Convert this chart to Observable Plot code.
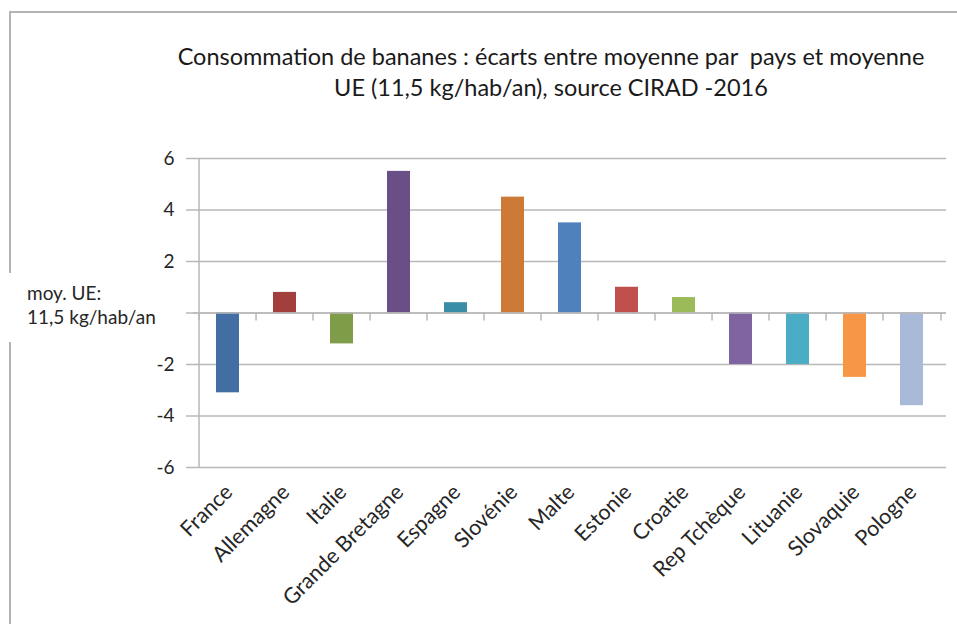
<!DOCTYPE html>
<html lang="fr">
<head>
<meta charset="utf-8">
<script src="https://cdn.jsdelivr.net/npm/d3@7"></script>
<script src="https://cdn.jsdelivr.net/npm/@observablehq/plot@0.6"></script>
<style>
  html, body { margin: 0; padding: 0; background: #fff; overflow: hidden; }
  #wrap { position: relative; width: 957px; height: 624px; overflow: hidden; font-family: Lato, "Open Sans", sans-serif; color: #262626; }
  #frame { position: absolute; left: 9px; top: 11px; width: 1000px; height: 700px; border: 2px solid #b4b4b4; box-sizing: border-box; }
  #title { position: absolute; left: 60px; width: 982px; top: 41px; text-align: center; font-size: 23.5px; line-height: 31px; color: #1a1a1a; }
  #chart { position: absolute; left: 0; top: 0; }
  #note { position: absolute; left: 0; top: 273px; width: 168px; height: 69px; background: #fff; }
  #note span { position: absolute; left: 27px; font-size: 19px; line-height: 24px; color: #262626; white-space: nowrap; }
</style>
</head>
<body>
<div id="wrap">
  <div id="frame"></div>
  <div id="chart"></div>
  <div id="title"></div>
  <div id="note"></div>
</div>
<script>
// Écart de consommation de bananes par pays vs moyenne UE (kg/hab/an)
const countries = ["France", "Allemagne", "Italie", "Grande Bretagne", "Espagne", "Slovénie", "Malte", "Estonie", "Croatie", "Rep Tchèque", "Lituanie", "Slovaquie", "Pologne"];
const gaps = [-3.1, 0.8, -1.2, 5.5, 0.4, 4.5, 3.5, 1.0, 0.6, -2.0, -2.0, -2.5, -3.6];
const barColors = ["#426ea4", "#a23f3d", "#7f9c48", "#6a4e86", "#3a8da6", "#cd7a36", "#4f81bd", "#c0504d", "#9bbb59", "#8064a2", "#4bacc6", "#f79646", "#a9bad8"];
const yTicks = [-6, -4, -2, 0, 2, 4, 6];
const titleLines = ["Consommation de bananes : écarts entre moyenne par  pays et moyenne", "UE (11,5 kg/hab/an), source CIRAD -2016"];
const noteLines = ["moy. UE:", "11,5 kg/hab/an"];

const rows = countries.map((country, i) => ({country, gap: gaps[i], color: barColors[i]}));

const W = 957, H = 624;
const mLeft = 193, mRight = 11, mTop = 158, mBottom = 157;
const step = (W - mLeft - mRight) / countries.length;
const pxPerUnit = (H - mTop - mBottom) / 12;
const tickLen = 8 / pxPerUnit; // separator tick length, in value units
const grey = "#b8b8b8";

const chart = Plot.plot({
  width: W,
  height: H,
  marginLeft: mLeft,
  marginRight: mRight,
  marginTop: mTop,
  marginBottom: mBottom,
  style: {fontFamily: "Lato, 'Open Sans', sans-serif", background: "transparent", color: "#262626"},
  x: {domain: countries, paddingInner: 0.6, paddingOuter: 0.3, axis: null},
  y: {domain: [-6, 6], axis: null},
  color: {type: "identity"},
  marks: [
    Plot.gridY(yTicks, {stroke: grey, strokeOpacity: 1, strokeWidth: 1.5}),
    // the zero tick carries no number: the UE note sits there instead
    Plot.axisY(yTicks, {label: null, tickSize: 7, tickPadding: 12, stroke: grey, strokeOpacity: 1, strokeWidth: 1.5, fontSize: 19, tickFormat: d => d === 0 ? "" : String(d), fill: "#262626"}),
    // vertical value axis at the left edge of the first band
    Plot.ruleX([countries[0]], {x: d => d, dx: -step / 2, y1: -6, y2: 6, stroke: grey, strokeWidth: 1.5}),
    Plot.barY(rows, {x: "country", y: "gap", fill: "color"}),
    Plot.ruleY([0], {stroke: grey, strokeWidth: 1.5}),
    // category separators hanging below the zero line
    Plot.ruleX(countries, {x: d => d, dx: -step / 2, y1: 0, y2: -tickLen, stroke: grey, strokeOpacity: 1, strokeWidth: 1.5}),
    Plot.ruleX([countries[countries.length - 1]], {x: d => d, dx: step / 2, y1: 0, y2: -tickLen, stroke: grey, strokeOpacity: 1, strokeWidth: 1.5}),
    Plot.text(countries, {x: d => d, frameAnchor: "bottom", rotate: -45, textAnchor: "end", lineAnchor: "middle", dx: 1, dy: 21, fontSize: 21.5, fill: "#262626"})
  ]
});
document.getElementById("chart").appendChild(chart);

const title = document.getElementById("title");
titleLines.forEach(t => { const d = document.createElement("div"); d.textContent = t; d.style.whiteSpace = "pre"; title.appendChild(d); });
const note = document.getElementById("note");
noteLines.forEach((t, i) => { const s = document.createElement("span"); s.textContent = t; s.style.top = (8 + i * 24) + "px"; note.appendChild(s); });
</script>
</body>
</html>
